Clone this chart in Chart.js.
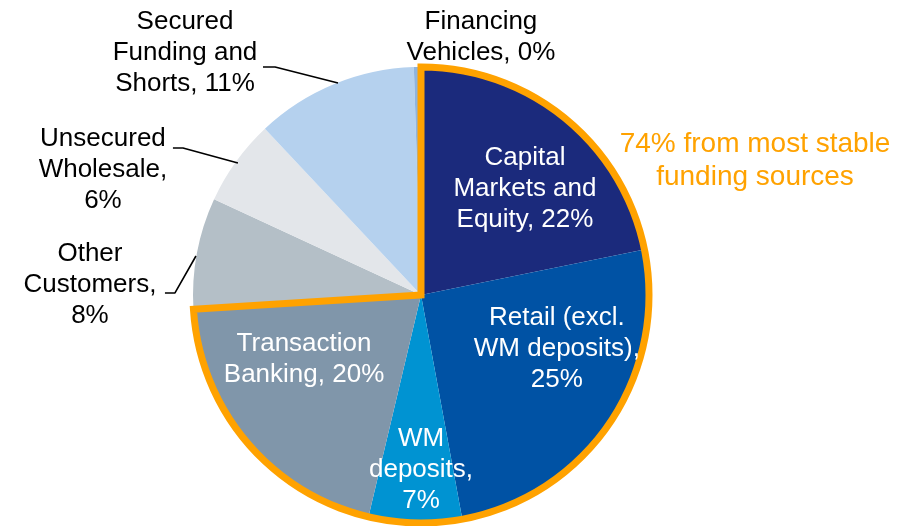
<!DOCTYPE html>
<html lang="en">
<head>
    <meta charset="UTF-8">
    <title>Funding Sources</title>
    <style>
        body { margin: 0; background: #fff; }
        #fundingChart { display: block; }
    </style>
</head>
<body>
    <canvas id="fundingChart" width="907" height="526"></canvas>

    <script src="https://cdn.jsdelivr.net/npm/chart.js"></script>

    <script>
        // funding mix, % of total, clockwise from 12 o'clock
        const categories = [
            'Capital Markets and Equity',
            'Retail (excl. WM deposits)',
            'WM deposits',
            'Transaction Banking',
            'Other Customers',
            'Unsecured Wholesale',
            'Secured Funding and Shorts',
            'Financing Vehicles'
        ];
        const shares = [21.8, 25.3, 6.6, 20.3, 7.9, 6.1, 11.5, 0.5];
        const shownPct = ['22%', '25%', '7%', '20%', '8%', '6%', '11%', '0%'];
        const stableCount = 4; // first four slices = most stable sources
        const stableNote = ['74% from most stable', 'funding sources'];

        const sliceColors = ['#1b2a7c', '#0052a4', '#0093d2', '#8096aa', '#b4bfc7', '#e3e6ea', '#b5d1ee', '#8fb4de'];

        // label lines (the percentage is appended to the last line)
        const labelLines = [
            ['Capital', 'Markets and', 'Equity, '],
            ['Retail (excl.', 'WM deposits),', ''],
            ['WM', 'deposits,', ''],
            ['Transaction', 'Banking, '],
            ['Other', 'Customers,', ''],
            ['Unsecured', 'Wholesale,', ''],
            ['Secured', 'Funding and', 'Shorts, '],
            ['Financing', 'Vehicles, ']
        ];
        // label centres, in units of the pie radius from the pie centre
        const labelPos = [
            [0.456, -0.466], [0.596, 0.234], [0, 0.765], [-0.513, 0.282],
            [-1.452, -0.044], [-1.395, -0.548], [-1.035, -1.061], [0.263, -1.132]
        ];
        const labelInside = [true, true, true, true, false, false, false, false];
        // leader lines for outside labels (same units)
        const leaders = {
            4: [[-1.123, -0.009], [-1.079, -0.009], [-0.987, -0.171]],
            5: [[-1.088, -0.645], [-1.044, -0.645], [-0.803, -0.579]],
            6: [[-0.693, -1.0], [-0.64, -1.0], [-0.364, -0.93]]
        };
        const notePos = [1.465, -0.588];

        const FONT = '"Liberation Sans", Arial, sans-serif';
        const ORANGE = '#ffa200';

        const overlay = {
            id: 'overlay',
            afterDatasetsDraw(chart) {
                const ctx = chart.ctx;
                const arcs = chart.getDatasetMeta(0).data;
                const cx = arcs[0].x, cy = arcs[0].y, r = arcs[0].outerRadius;

                // orange outline round the stable slices
                const a0 = arcs[0].startAngle;
                const a1 = arcs[stableCount - 1].endAngle;
                ctx.save();
                ctx.strokeStyle = ORANGE;
                ctx.lineWidth = 7;
                ctx.lineJoin = 'miter';
                ctx.beginPath();
                ctx.moveTo(cx, cy);
                ctx.lineTo(cx + r * Math.cos(a0), cy + r * Math.sin(a0));
                ctx.arc(cx, cy, r, a0, a1);
                ctx.closePath();
                ctx.stroke();

                // leader lines
                ctx.strokeStyle = '#000';
                ctx.lineWidth = 1.6;
                ctx.lineJoin = 'round';
                Object.keys(leaders).forEach(k => {
                    const pts = leaders[k];
                    ctx.beginPath();
                    pts.forEach((p, i) => {
                        const x = cx + p[0] * r, y = cy + p[1] * r;
                        if (i === 0) ctx.moveTo(x, y); else ctx.lineTo(x, y);
                    });
                    ctx.stroke();
                });

                // slice labels
                ctx.font = '26px ' + FONT;
                ctx.textAlign = 'center';
                ctx.textBaseline = 'middle';
                const lh = 31;
                categories.forEach((c, i) => {
                    const lines = labelLines[i].slice();
                    lines[lines.length - 1] += shownPct[i];
                    const x = cx + labelPos[i][0] * r;
                    const y = cy + labelPos[i][1] * r;
                    ctx.fillStyle = labelInside[i] ? '#fff' : '#000';
                    lines.forEach((t, j) => {
                        ctx.fillText(t, x, y + (j - (lines.length - 1) / 2) * lh);
                    });
                });

                // note
                ctx.font = '28px ' + FONT;
                ctx.fillStyle = ORANGE;
                stableNote.forEach((t, j) => {
                    ctx.fillText(t, cx + notePos[0] * r, cy + notePos[1] * r + (j - 0.5) * 33);
                });
                ctx.restore();
            }
        };

        const ctx = document.getElementById('fundingChart').getContext('2d');
        const chart = new Chart(ctx, {
            type: 'pie',
            data: {
                labels: categories,
                datasets: [{
                    data: shares,
                    backgroundColor: sliceColors,
                    borderWidth: 0
                }]
            },
            options: {
                responsive: false,
                animation: false,
                devicePixelRatio: 1,
                layout: { padding: { top: 67, bottom: 3, left: 193, right: 258 } },
                plugins: {
                    legend: { display: false },
                    tooltip: { enabled: false }
                }
            },
            plugins: [overlay]
        });
    </script>
</body>
</html>
